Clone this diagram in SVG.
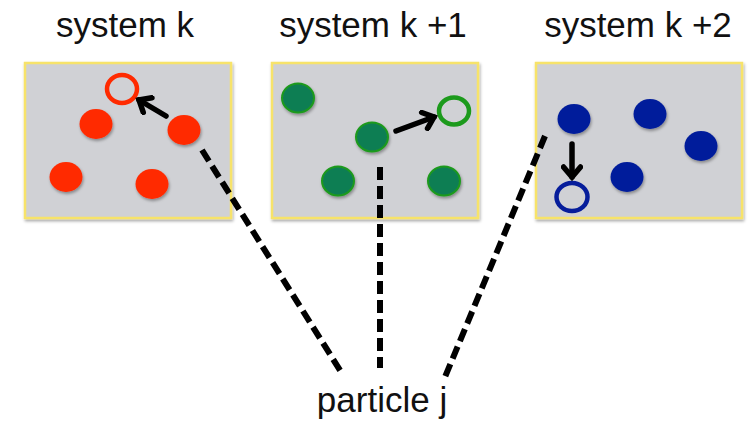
<svg xmlns="http://www.w3.org/2000/svg" width="754" height="421" viewBox="0 0 754 421">
  <defs>
    <filter id="shadow" x="-30%" y="-30%" width="160%" height="170%">
      <feDropShadow dx="1" dy="2" stdDeviation="1.5" flood-color="#000" flood-opacity="0.35"/>
    </filter>
    <marker id="head" markerUnits="userSpaceOnUse" markerWidth="22" markerHeight="22" refX="15" refY="11" orient="auto" viewBox="0 0 22 22">
      <path d="M5,2.5 L15,11 L5,19.5" fill="none" stroke="#000" stroke-width="5.5" stroke-linecap="round" stroke-linejoin="miter"/>
    </marker>
    <style>
      .title { font-family: "Liberation Sans", Arial, sans-serif; font-size: 35px; fill: #111; text-anchor: middle; }
      .box { fill: #d0d1d5; stroke: #f7e36a; stroke-width: 2.5; filter: url(#shadow); }
      .red { fill: #ff2a00; filter: url(#shadow); }
      .red-open { fill: none; stroke: #ff2a00; stroke-width: 4.5; }
      .green { fill: #117e52; stroke: #1c9a1c; stroke-width: 2; filter: url(#shadow); }
      .green-open { fill: none; stroke: #1c9a1c; stroke-width: 4.5; }
      .blue { fill: #061d9b; filter: url(#shadow); }
      .blue-open { fill: none; stroke: #061d9b; stroke-width: 4.5; }
      .move { stroke: #000; stroke-width: 5.5; stroke-linecap: round; fill: none; marker-end: url(#head); }
      .link { stroke: #000; stroke-width: 6; stroke-dasharray: 13 6; fill: none; }
    </style>
  </defs>

  <!-- system k -->
  <g id="system-k">
    <text class="title" x="125" y="37">system k</text>
    <rect class="box" x="25" y="63" width="206" height="155"/>
    <ellipse class="red-open" cx="122" cy="89" rx="15" ry="14"/>
    <ellipse class="red" cx="96" cy="124" rx="16.5" ry="15"/>
    <ellipse class="red" cx="184" cy="130" rx="16.5" ry="15"/>
    <ellipse class="red" cx="66" cy="177" rx="16.5" ry="15"/>
    <ellipse class="red" cx="152" cy="184" rx="16.5" ry="15"/>
  </g>

  <!-- system k +1 -->
  <g id="system-k1">
    <text class="title" x="373" y="37">system k +1</text>
    <rect class="box" x="272" y="63" width="206" height="155"/>
    <ellipse class="green" cx="298" cy="98" rx="16" ry="14.5"/>
    <ellipse class="green" cx="372" cy="137" rx="16" ry="14.5"/>
    <ellipse class="green" cx="338" cy="181" rx="16" ry="14.5"/>
    <ellipse class="green" cx="444" cy="181" rx="16" ry="14.5"/>
    <ellipse class="green-open" cx="454" cy="111" rx="15" ry="13.5"/>
  </g>

  <!-- system k +2 -->
  <g id="system-k2">
    <text class="title" x="638" y="37">system k +2</text>
    <rect class="box" x="536" y="63" width="206" height="155"/>
    <ellipse class="blue" cx="574" cy="119" rx="16.5" ry="15"/>
    <ellipse class="blue" cx="650" cy="114" rx="16.5" ry="15"/>
    <ellipse class="blue" cx="701" cy="146" rx="16.5" ry="15"/>
    <ellipse class="blue" cx="627" cy="177" rx="16.5" ry="15"/>
    <ellipse class="blue-open" cx="572" cy="197" rx="15.5" ry="14"/>
  </g>

  <!-- particle label -->
  <g id="particle-j">
    <text class="title" x="382" y="412">particle j</text>
  </g>

  <!-- connectors: particle moves and label leaders -->
  <g id="connectors">
    <line class="move" x1="166" y1="116" x2="139" y2="100"/>
    <line class="move" x1="396" y1="131" x2="434" y2="117"/>
    <line class="move" x1="572" y1="144" x2="572" y2="177"/>
    <line class="link" x1="202" y1="150" x2="343" y2="375"/>
    <line class="link" x1="380" y1="167" x2="380" y2="368"/>
    <line class="link" x1="545" y1="136" x2="445" y2="377"/>
  </g>
</svg>
